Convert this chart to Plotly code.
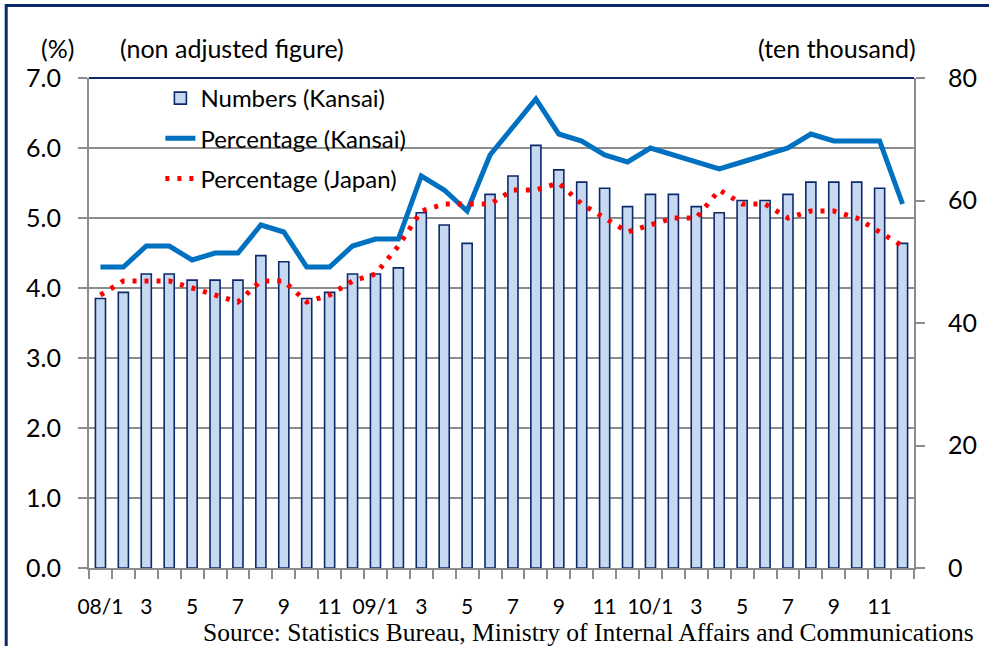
import plotly.graph_objects as go

# ---- data ----
month_index = list(range(36))
tick_positions = list(range(0, 36, 2))
tick_labels = ["08/1", "3", "5", "7", "9", "11",
               "09/1", "3", "5", "7", "9", "11",
               "10/1", "3", "5", "7", "9", "11"]

numbers_kansai = [44, 45, 48, 48, 47, 47, 47, 51, 50, 44, 45, 48,
                  48, 49, 58, 56, 53, 61, 64, 69, 65, 63, 62, 59,
                  61, 61, 59, 58, 60, 60, 61, 63, 63, 63, 62, 53]

pct_kansai = [4.3, 4.3, 4.6, 4.6, 4.4, 4.5, 4.5, 4.9, 4.8, 4.3, 4.3, 4.6,
              4.7, 4.7, 5.6, 5.4, 5.1, 5.9, 6.3, 6.7, 6.2, 6.1, 5.9, 5.8,
              6.0, 5.9, 5.8, 5.7, 5.8, 5.9, 6.0, 6.2, 6.1, 6.1, 6.1, 5.2]

pct_japan = [3.9, 4.1, 4.1, 4.1, 4.0, 3.9, 3.8, 4.1, 4.1, 3.8, 3.9, 4.1,
             4.2, 4.6, 5.1, 5.2, 5.2, 5.2, 5.4, 5.4, 5.5, 5.2, 5.0, 4.8,
             4.9, 5.0, 5.0, 5.4, 5.2, 5.2, 5.0, 5.1, 5.1, 5.0, 4.8, 4.6]

NAVY = "#0c2a6a"
GREY = "#8c8c8c"
FONT = "Lato"

W, H = 989, 646
L, R, T, B = 89, 921, 78, 568
pw, ph = R - L, B - T


def px(x):
    return (x - L) / pw


def py(y):
    return (B - y) / ph


fig = go.Figure()

fig.add_trace(go.Bar(
    x=month_index, y=numbers_kansai, name="Numbers (Kansai)",
    yaxis="y", width=0.44,
    marker=dict(color="#c6d9f1", line=dict(color=NAVY, width=1.6)),
    legendgroup="a",
))
fig.add_trace(go.Scatter(
    x=month_index, y=pct_kansai, name="Percentage (Kansai)",
    yaxis="y2", mode="lines",
    line=dict(color="#0070c0", width=5),
    legendgroup="b",
))
fig.add_trace(go.Scatter(
    x=month_index, y=pct_japan, name="Percentage (Japan)",
    yaxis="y2", mode="lines",
    line=dict(color="#ff0000", width=5, dash="4px,8px"),
    legendgroup="c",
))

fig.update_layout(
    width=W, height=H,
    margin=dict(l=L, r=W - R, t=T, b=H - B, pad=0),
    paper_bgcolor="white", plot_bgcolor="white",
    font=dict(family=FONT, color="black", size=21),
    showlegend=True,
    legend=dict(
        x=px(161), y=py(76), xanchor="left", yanchor="top",
        bgcolor="rgba(0,0,0,0)", font=dict(size=24, family=FONT),
        traceorder="grouped", tracegroupgap=6,
    ),
    xaxis=dict(
        range=[-0.5, 35.5], tickmode="array",
        tickvals=tick_positions, ticktext=tick_labels,
        ticks="", ticklen=0, showgrid=False,
        showline=True, linecolor=GREY, linewidth=2,
        tickfont=dict(size=21, family=FONT),
        ticklabelstandoff=19,
        minor=dict(tick0=-0.5, dtick=1, ticks="outside", ticklen=9,
                   tickcolor=GREY, tickwidth=2, showgrid=False),
        zeroline=False,
    ),
    yaxis=dict(
        side="right", range=[0, 80], tickmode="array",
        tickvals=[0, 20, 40, 60, 80],
        ticks="outside", ticklen=9, tickcolor=GREY, tickwidth=2,
        showline=True, linecolor=GREY, linewidth=2,
        showgrid=False, zeroline=False,
        tickfont=dict(size=25, family=FONT),
        ticklabelstandoff=18,
    ),
    yaxis2=dict(
        side="left", overlaying="y", range=[0, 7],
        tickmode="array", tickvals=[0, 1, 2, 3, 4, 5, 6, 7],
        tickformat=".1f",
        ticks="outside", ticklen=9, tickcolor=GREY, tickwidth=2,
        showline=True, linecolor=GREY, linewidth=2,
        showgrid=True, gridcolor=GREY, gridwidth=1.5,
        zeroline=False,
        tickfont=dict(size=25, family=FONT),
        ticklabelstandoff=12,
    ),
)

# top border of plot area (navy) and outer frame
fig.add_shape(type="line", xref="paper", yref="paper",
              x0=0, x1=1, y0=1, y1=1, line=dict(color=NAVY, width=2))
fig.add_shape(type="rect", xref="paper", yref="paper",
              x0=px(5.5), x1=px(1100), y0=py(800), y1=py(5.5),
              line=dict(color=NAVY, width=3), layer="above")

ann = [
    dict(text="(%)", x=px(57), y=py(48), xanchor="center"),
    dict(text="(non adjusted figure)", x=px(118), y=py(48), xanchor="left"),
    dict(text="(ten thousand)", x=px(925), y=py(48), xanchor="right"),
]
for a in ann:
    fig.add_annotation(xref="paper", yref="paper", showarrow=False,
                       yanchor="middle", font=dict(size=25, family=FONT,
                                                   color="black"), **a)

fig.add_annotation(
    xref="paper", yref="paper", showarrow=False,
    text="Source: Statistics Bureau, Ministry of Internal Affairs and Communications",
    x=px(984), y=py(632.5), xanchor="right", yanchor="middle",
    font=dict(size=25.5, family="Liberation Serif", color="black"),
)

fig.write_html(
    "out.html",
    config={"displayModeBar": False},
    post_script="document.body.style.margin='0';document.body.style.padding='0';"
                "document.documentElement.style.overflow='hidden';",
)
